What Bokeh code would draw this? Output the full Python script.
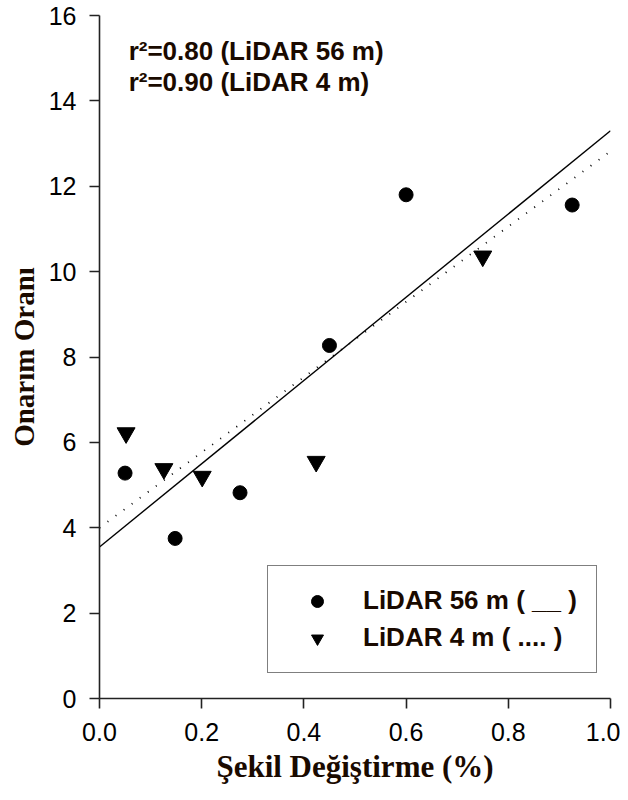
from bokeh.plotting import figure
from bokeh.models import Range1d, FixedTicker, Label, Legend, LegendItem
from bokeh.embed import file_html
from bokeh.resources import INLINE

# ---- data ----
lidar56_x = [0.050, 0.148, 0.275, 0.450, 0.600, 0.925]
lidar56_y = [5.28, 3.75, 4.82, 8.27, 11.80, 11.56]

lidar4_x = [0.052, 0.126, 0.201, 0.424, 0.750]
lidar4_y = [6.22, 5.38, 5.20, 5.55, 10.36]

# regression lines (intercept, slope)
fit56 = [3.55, 9.75]
fit4 = [4.00, 8.82]
fit_x = [0.0, 1.0]

x_ticks = [0.0, 0.2, 0.4, 0.6, 0.8, 1.0]
y_ticks = [0, 2, 4, 6, 8, 10, 12, 14, 16]

r2_lines = ["r\u00b2=0.80 (LiDAR 56 m)", "r\u00b2=0.90 (LiDAR 4 m)"]
legend_labels = ["LiDAR 56 m ( __ )", "LiDAR 4 m ( .... )"]

p = figure(width=620, height=792, output_backend="svg", toolbar_location=None,
           x_range=Range1d(0, 1), y_range=Range1d(0, 16),
           min_border_left=99, min_border_top=15, min_border_right=10,
           min_border_bottom=94)
p.outline_line_color = None
p.grid.visible = False
p.background_fill_color = "white"
p.border_fill_color = "white"

for ax in (p.xaxis[0], p.yaxis[0]):
    ax.axis_line_color = "#222222"
    ax.axis_line_width = 1.6
    ax.major_tick_line_color = "#222222"
    ax.major_tick_line_width = 1.6
    ax.major_tick_out = 10
    ax.major_tick_in = 0
    ax.minor_tick_line_color = None
    ax.major_label_text_font = "Liberation Sans"
    ax.major_label_text_font_size = "25px"
    ax.major_label_text_color = "black"
    ax.axis_label_text_font = "Liberation Serif"
    ax.axis_label_text_font_style = "bold"
    ax.axis_label_text_color = "#1a0a00"

p.xaxis.axis_label_text_font_size = "31px"
p.yaxis.axis_label_text_font_size = "29px"
p.xaxis.ticker = FixedTicker(ticks=x_ticks)
p.xaxis.major_label_overrides = {t: f"{t:.1f}" for t in x_ticks}
p.yaxis.ticker = FixedTicker(ticks=y_ticks)
p.xaxis.major_label_standoff = 14
p.yaxis.major_label_standoff = 13
p.xaxis.axis_label = "Şekil Değiştirme (%)"
p.yaxis.axis_label = "Onarım Oranı"
p.xaxis.axis_label_standoff = 5
p.yaxis.axis_label_standoff = 6

# regression lines
p.line(fit_x, [fit56[0] + fit56[1] * x for x in fit_x], line_color="black", line_width=1.4)
p.line(fit_x, [fit4[0] + fit4[1] * x for x in fit_x], line_color="black", line_width=1.8,
       line_dash="1 9")

r56 = p.scatter(lidar56_x, lidar56_y, marker="circle", size=14, fill_color="black",
                line_color="black")
r4 = p.scatter(lidar4_x, lidar4_y, marker="inverted_triangle", size=18, fill_color="black",
               line_color="black")

legend = Legend(items=[LegendItem(label=legend_labels[0], renderers=[r56]),
                       LegendItem(label=legend_labels[1], renderers=[r4])],
                location=(168, 25), margin=0, padding=19, spacing=6,
                glyph_width=60, glyph_height=30, label_height=30, label_standoff=16,
                label_text_font="Liberation Sans", label_text_font_style="bold",
                label_text_font_size="26px", label_text_color="#1a0a00",
                border_line_color="black", border_line_width=1.5,
                background_fill_color="white", background_fill_alpha=1)
p.add_layout(legend, "center")

for txt, yv in zip(r2_lines, [15.18, 14.45]):
    p.add_layout(Label(x=0.057, y=yv, text=txt, text_font="Liberation Sans",
                       text_font_style="bold", text_font_size="26px",
                       text_color="#1a0a00", text_baseline="alphabetic"))

open("out.html", "w").write(file_html(p, INLINE))
